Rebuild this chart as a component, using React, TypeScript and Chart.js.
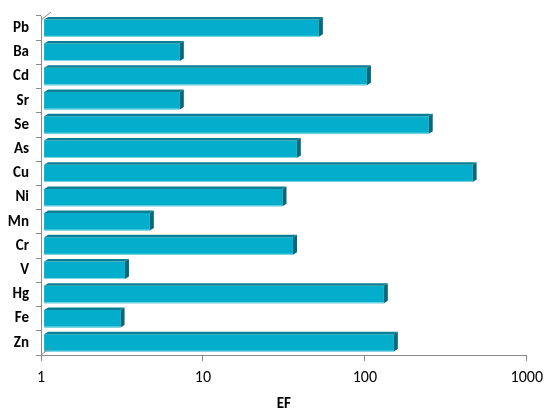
import React, { useEffect, useRef } from "react";
import { Chart, registerables } from "chart.js";

Chart.register(...registerables);

const categories = ["Pb", "Ba", "Cd", "Sr", "Se", "As", "Cu", "Ni", "Mn", "Cr", "V", "Hg", "Fe", "Zn"];
const efValues = [52, 7.2, 103, 7.2, 248, 38, 463, 31, 4.7, 36, 3.3, 131, 3.1, 151];
const xTicks = [1, 10, 100, 1000];
const xTitle = "EF";

const FONT = "Carlito, Calibri, Lato, sans-serif";
const FRONT = "#02AECB";
const TOP = "#0B8094";
const SIDE = "#06697B";
const AXIS = "#8A8A8A";

const bar3d = {
  id: "bar3d",
  afterDatasetsDraw(chart: any) {
    const ctx = chart.ctx;
    const meta = chart.getDatasetMeta(0);
    const d = 4;
    const dy = 2.5;
    ctx.save();
    meta.data.forEach((el: any) => {
      const p = el.getProps(["x", "y", "base", "height"], true);
      const x0 = Math.min(p.base, p.x);
      const x1 = Math.max(p.base, p.x);
      const yt = p.y - p.height / 2;
      const yb = p.y + p.height / 2;
      // top face
      ctx.fillStyle = TOP;
      ctx.beginPath();
      ctx.moveTo(x0, yt);
      ctx.lineTo(x1, yt);
      ctx.lineTo(x1 + d, yt - dy);
      ctx.lineTo(x0 + d, yt - dy);
      ctx.closePath();
      ctx.fill();
      // side face
      ctx.fillStyle = SIDE;
      ctx.beginPath();
      ctx.moveTo(x1, yt);
      ctx.lineTo(x1 + d, yt - dy);
      ctx.lineTo(x1 + d, yb - dy);
      ctx.lineTo(x1, yb);
      ctx.closePath();
      ctx.fill();
      // light bottom edge
      ctx.strokeStyle = "#86D8E4";
      ctx.lineWidth = 1;
      ctx.beginPath();
      ctx.moveTo(x0, yb - 0.5);
      ctx.lineTo(x1, yb - 0.5);
      ctx.stroke();
    });
    // 3D wall/floor hints
    const a = chart.chartArea;
    ctx.strokeStyle = AXIS;
    ctx.lineWidth = 1;
    ctx.beginPath();
    ctx.moveTo(a.left, a.top + 4);
    ctx.lineTo(a.left + 10, a.top - 4);
    ctx.moveTo(a.left, a.bottom);
    ctx.lineTo(a.left + 9, a.bottom - 7);
    ctx.stroke();
    ctx.restore();
  },
};

export default function App() {
  const ref = useRef<HTMLCanvasElement | null>(null);
  useEffect(() => {
    if (!ref.current) return;
    const chart = new Chart(ref.current, {
      type: "bar",
      data: {
        labels: categories,
        datasets: [
          {
            data: efValues,
            backgroundColor: FRONT,
            borderWidth: 0,
            base: 1.045,
            categoryPercentage: 1,
            barPercentage: 0.72,
          } as any,
        ],
      },
      options: {
        indexAxis: "y",
        animation: false,
        responsive: false,
        maintainAspectRatio: false,
        layout: { padding: { top: 9, right: 22, left: 0, bottom: 0 } },
        plugins: { legend: { display: false }, tooltip: { enabled: false } },
        scales: {
          x: {
            type: "logarithmic",
            min: 1,
            max: 1000,
            afterBuildTicks: (s: any) => {
              s.ticks = xTicks.map((v) => ({ value: v }));
            },
            afterFit: (s: any) => {
              s.height = 64;
            },
            ticks: {
              color: "#000",
              font: { family: FONT, size: 16 },
              padding: 7,
              callback: (v: any) => String(v),
              maxRotation: 0,
              autoSkip: false,
            },
            grid: { display: true, drawOnChartArea: false, tickLength: 6, color: AXIS },
            border: { display: true, color: AXIS },
            title: {
              display: true,
              text: xTitle,
              color: "#000",
              font: { family: FONT, size: 15, weight: "bold" },
              padding: { top: 6, bottom: 6 },
            },
          },
          y: {
            afterFit: (s: any) => {
              s.width = 41;
            },
            ticks: {
              color: "#000",
              font: { family: FONT, size: 15, weight: "bold" },
              padding: 7,
            },
            grid: { display: true, drawOnChartArea: false, tickLength: 5, color: AXIS, offset: true },
            border: { display: true, color: AXIS },
          },
        },
      },
      plugins: [bar3d],
    });
    return () => chart.destroy();
  }, []);
  return (
    <div style={{ position: "fixed", left: 0, top: 0, width: 550, height: 419, background: "#fff" }}>
      <canvas ref={ref} width={550} height={419} style={{ width: 550, height: 419 }} />
    </div>
  );
}
